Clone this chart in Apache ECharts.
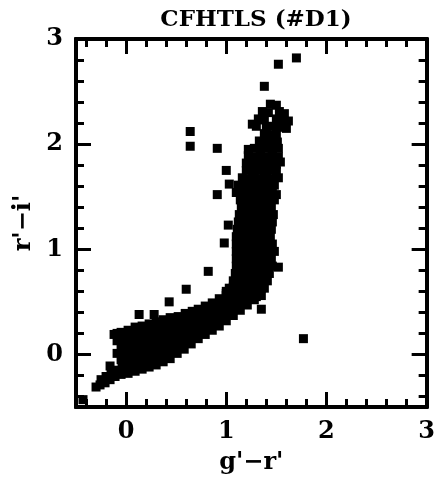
<!DOCTYPE html>
<html>
<head>
<meta charset="utf-8">
<script src="https://cdn.jsdelivr.net/npm/echarts@6/dist/echarts.min.js"></script>
<style>
  html, body { margin: 0; padding: 0; background: #fff; }
  #chart { width: 438px; height: 481px; }
</style>
</head>
<body>
<div id="chart"></div>
<script>
// tick positions (same on both axes)
var majorTicks = [0, 1, 2, 3]
var minorTicks = [-0.4, -0.2, 0, 0.2, 0.4, 0.6, 0.8, 1, 1.2, 1.4, 1.6, 1.8, 2, 2.2, 2.4, 2.6, 2.8]

// g'-r', r'-i'
// stellar locus, blue end (lower diagonal branch)
var lowerBand = [
  [-0.30, -0.31], [-0.26, -0.29], [-0.25, -0.24], [-0.21, -0.27], [-0.20, -0.21], [-0.16, -0.24], [-0.15, -0.17], [-0.16, -0.11],
  [-0.11, -0.21], [-0.10, -0.15], [-0.09, 0.13], [-0.12, 0.19],
  [-0.05, -0.19], [-0.04, -0.12], [-0.05, -0.05], [-0.04, 0.02], [-0.05, 0.09], [-0.04, 0.15], [-0.05, 0.21],
  [0.02, -0.18], [0.03, -0.11], [0.02, -0.04], [0.03, 0.03], [0.02, 0.10], [0.03, 0.17], [0.02, 0.23],
  [0.09, -0.16], [0.10, -0.09], [0.09, -0.02], [0.10, 0.05], [0.09, 0.12], [0.10, 0.19], [0.09, 0.26],
  [0.16, -0.14], [0.17, -0.07], [0.16, 0.00], [0.17, 0.07], [0.16, 0.14], [0.17, 0.21], [0.16, 0.27],
  [0.23, -0.12], [0.24, -0.05], [0.23, 0.02], [0.24, 0.09], [0.23, 0.16], [0.24, 0.23], [0.23, 0.29],
  [0.30, -0.10], [0.31, -0.03], [0.30, 0.04], [0.31, 0.11], [0.30, 0.18], [0.31, 0.25], [0.30, 0.31],
  [0.37, -0.07], [0.38, 0.00], [0.37, 0.07], [0.38, 0.14], [0.37, 0.21], [0.38, 0.28], [0.37, 0.33],
  [0.44, -0.04], [0.45, 0.03], [0.44, 0.10], [0.45, 0.17], [0.44, 0.24], [0.45, 0.30], [0.44, 0.35],
  [0.51, 0.01], [0.52, 0.08], [0.51, 0.15], [0.52, 0.22], [0.51, 0.29], [0.52, 0.36],
  [0.58, 0.05], [0.59, 0.12], [0.58, 0.19], [0.59, 0.26], [0.58, 0.33], [0.59, 0.39],
  [0.65, 0.10], [0.66, 0.17], [0.65, 0.24], [0.66, 0.31], [0.65, 0.38], [0.66, 0.41],
  [0.72, 0.15], [0.73, 0.22], [0.72, 0.29], [0.73, 0.36], [0.72, 0.43],
  [0.79, 0.19], [0.80, 0.26], [0.79, 0.33], [0.80, 0.40], [0.79, 0.46],
  [0.86, 0.23], [0.87, 0.30], [0.86, 0.37], [0.87, 0.44], [0.86, 0.49],
  [0.93, 0.27], [0.94, 0.34], [0.93, 0.41], [0.94, 0.48], [0.93, 0.53],
  [1.00, 0.32], [1.01, 0.39], [1.00, 0.46], [1.01, 0.53], [1.00, 0.58],
  [1.07, 0.37], [1.08, 0.44], [1.07, 0.51], [1.08, 0.58], [1.07, 0.64],
  [1.14, 0.42], [1.15, 0.49], [1.14, 0.56], [1.15, 0.63],
  [1.21, 0.47], [1.22, 0.54], [1.21, 0.61],
  [1.28, 0.52], [1.29, 0.58], [1.34, 0.57], [1.35, 0.63]
]

// stellar locus, red end (vertical branch)
var upperBand = [
  [1.44, 2.38], [1.50, 2.37],
  [1.36, 2.31], [1.42, 2.30], [1.53, 2.31], [1.58, 2.29],
  [1.32, 2.24], [1.38, 2.23], [1.50, 2.24], [1.56, 2.23], [1.62, 2.22],
  [1.30, 2.17], [1.40, 2.16], [1.46, 2.17], [1.54, 2.16], [1.60, 2.15],
  [1.38, 2.10], [1.44, 2.09], [1.50, 2.10],
  [1.33, 2.03], [1.39, 2.02], [1.45, 2.03], [1.51, 2.02],
  [1.28, 1.96], [1.34, 1.95], [1.40, 1.96], [1.46, 1.95], [1.52, 1.96],
  [1.22, 1.89], [1.28, 1.88], [1.34, 1.89], [1.40, 1.88], [1.46, 1.89], [1.52, 1.88],
  [1.20, 1.82], [1.26, 1.81], [1.32, 1.82], [1.38, 1.81], [1.44, 1.82], [1.50, 1.81], [1.54, 1.83],
  [1.20, 1.75], [1.26, 1.74], [1.32, 1.75], [1.38, 1.74], [1.44, 1.75], [1.50, 1.74],
  [1.16, 1.68], [1.22, 1.67], [1.28, 1.68], [1.34, 1.67], [1.40, 1.68], [1.46, 1.67], [1.52, 1.68],
  [1.12, 1.61], [1.18, 1.60], [1.24, 1.61], [1.30, 1.60], [1.36, 1.61], [1.42, 1.60], [1.48, 1.61],
  [1.10, 1.54], [1.16, 1.53], [1.22, 1.54], [1.28, 1.53], [1.34, 1.54], [1.40, 1.53], [1.46, 1.54], [1.50, 1.52],
  [1.14, 1.47], [1.20, 1.46], [1.26, 1.47], [1.32, 1.46], [1.38, 1.47], [1.44, 1.46], [1.48, 1.47],
  [1.15, 1.40], [1.21, 1.39], [1.27, 1.40], [1.33, 1.39], [1.39, 1.40], [1.45, 1.39],
  [1.13, 1.33], [1.19, 1.32], [1.25, 1.33], [1.31, 1.32], [1.37, 1.33], [1.43, 1.32], [1.47, 1.33],
  [1.12, 1.26], [1.18, 1.25], [1.24, 1.26], [1.30, 1.25], [1.36, 1.26], [1.42, 1.25], [1.46, 1.26],
  [1.11, 1.19], [1.17, 1.18], [1.23, 1.19], [1.29, 1.18], [1.35, 1.19], [1.41, 1.18], [1.45, 1.19],
  [1.10, 1.12], [1.16, 1.11], [1.22, 1.12], [1.28, 1.11], [1.34, 1.12], [1.40, 1.11], [1.44, 1.12],
  [1.10, 1.05], [1.16, 1.04], [1.22, 1.05], [1.28, 1.04], [1.34, 1.05], [1.40, 1.04], [1.46, 1.05],
  [1.10, 0.98], [1.16, 0.97], [1.22, 0.98], [1.28, 0.97], [1.34, 0.98], [1.40, 0.97], [1.48, 0.98],
  [1.10, 0.91], [1.16, 0.90], [1.22, 0.91], [1.28, 0.90], [1.34, 0.91], [1.40, 0.90], [1.45, 0.91],
  [1.10, 0.84], [1.16, 0.83], [1.22, 0.84], [1.28, 0.83], [1.34, 0.84], [1.40, 0.83], [1.46, 0.84], [1.52, 0.83],
  [1.09, 0.77], [1.15, 0.76], [1.21, 0.77], [1.27, 0.76], [1.33, 0.77], [1.39, 0.76], [1.43, 0.77],
  [1.07, 0.70], [1.13, 0.69], [1.19, 0.70], [1.25, 0.69], [1.31, 0.70], [1.37, 0.69], [1.41, 0.70],
  [1.03, 0.63], [1.09, 0.62], [1.15, 0.63], [1.21, 0.62], [1.27, 0.63], [1.33, 0.62], [1.38, 0.63],
  [1.00, 0.56], [1.06, 0.55], [1.12, 0.56], [1.18, 0.55], [1.24, 0.56], [1.30, 0.55], [1.35, 0.56]
]

// isolated objects
var outliers = [
  [1.70, 2.82], [1.52, 2.76], [1.38, 2.55], [1.26, 2.19], [1.22, 1.95],
  [0.64, 2.12], [0.64, 1.98], [0.91, 1.96], [1.00, 1.75], [1.03, 1.62],
  [0.91, 1.52], [1.02, 1.23], [0.98, 1.06], [0.82, 0.79], [0.60, 0.62],
  [1.00, 0.60], [0.43, 0.50], [0.13, 0.38], [0.28, 0.38], [1.35, 0.43],
  [-0.09, 0.20], [-0.09, 0.01], [1.77, 0.15], [-0.43, -0.43]
]

var font = { fontFamily: 'DejaVu Serif', fontWeight: 'bold', fontSize: 24, color: '#000' }

function axisPart (pos, ticks, len, labels) {
    return {
        type: 'value',
        position: pos,
        min: -0.5,
        max: 3,
        axisLine: { show: true, onZero: false, lineStyle: { color: '#000', width: 4 } },
        axisTick: { show: true, inside: true, length: len, customValues: ticks, lineStyle: { color: '#000', width: 3 } },
        axisLabel: Object.assign({ show: labels, customValues: majorTicks, margin: 13 }, font),
        splitLine: { show: false }
    }
}

var xMain = axisPart('bottom', majorTicks, 15, true)
xMain.name = "g'\u2212r'"
xMain.nameLocation = 'middle'
xMain.nameGap = 44
xMain.nameTextStyle = font

var yMain = axisPart('left', majorTicks, 15, true)
yMain.name = "r'\u2212i'"
yMain.nameLocation = 'middle'
yMain.nameGap = 40
yMain.nameTextStyle = font

function stars (data) {
    return {
        type: 'scatter',
        symbol: 'rect',
        symbolSize: 9,
        itemStyle: { color: '#000', opacity: 1 },
        emphasis: { disabled: true },
        data: data
    }
}

var option = {
    animation: false,
    backgroundColor: '#fff',
    title: {
        text: 'CFHTLS (#D1)',
        left: 251,
        top: 4,
        textAlign: 'center',
        textStyle: Object.assign({}, font, { fontSize: 23 })
    },
    grid: { left: 76, right: 11, top: 39, bottom: 74 },
    xAxis: [
        xMain,
        axisPart('bottom', minorTicks, 8, false),
        axisPart('top', majorTicks, 15, false),
        axisPart('top', minorTicks, 8, false)
    ],
    yAxis: [
        yMain,
        axisPart('left', minorTicks, 8, false),
        axisPart('right', majorTicks, 15, false),
        axisPart('right', minorTicks, 8, false)
    ],
    series: [stars(lowerBand), stars(upperBand), stars(outliers)]
}

var myChart = echarts.init(document.getElementById('chart'))
myChart.setOption(option)
</script>
</body>
</html>
